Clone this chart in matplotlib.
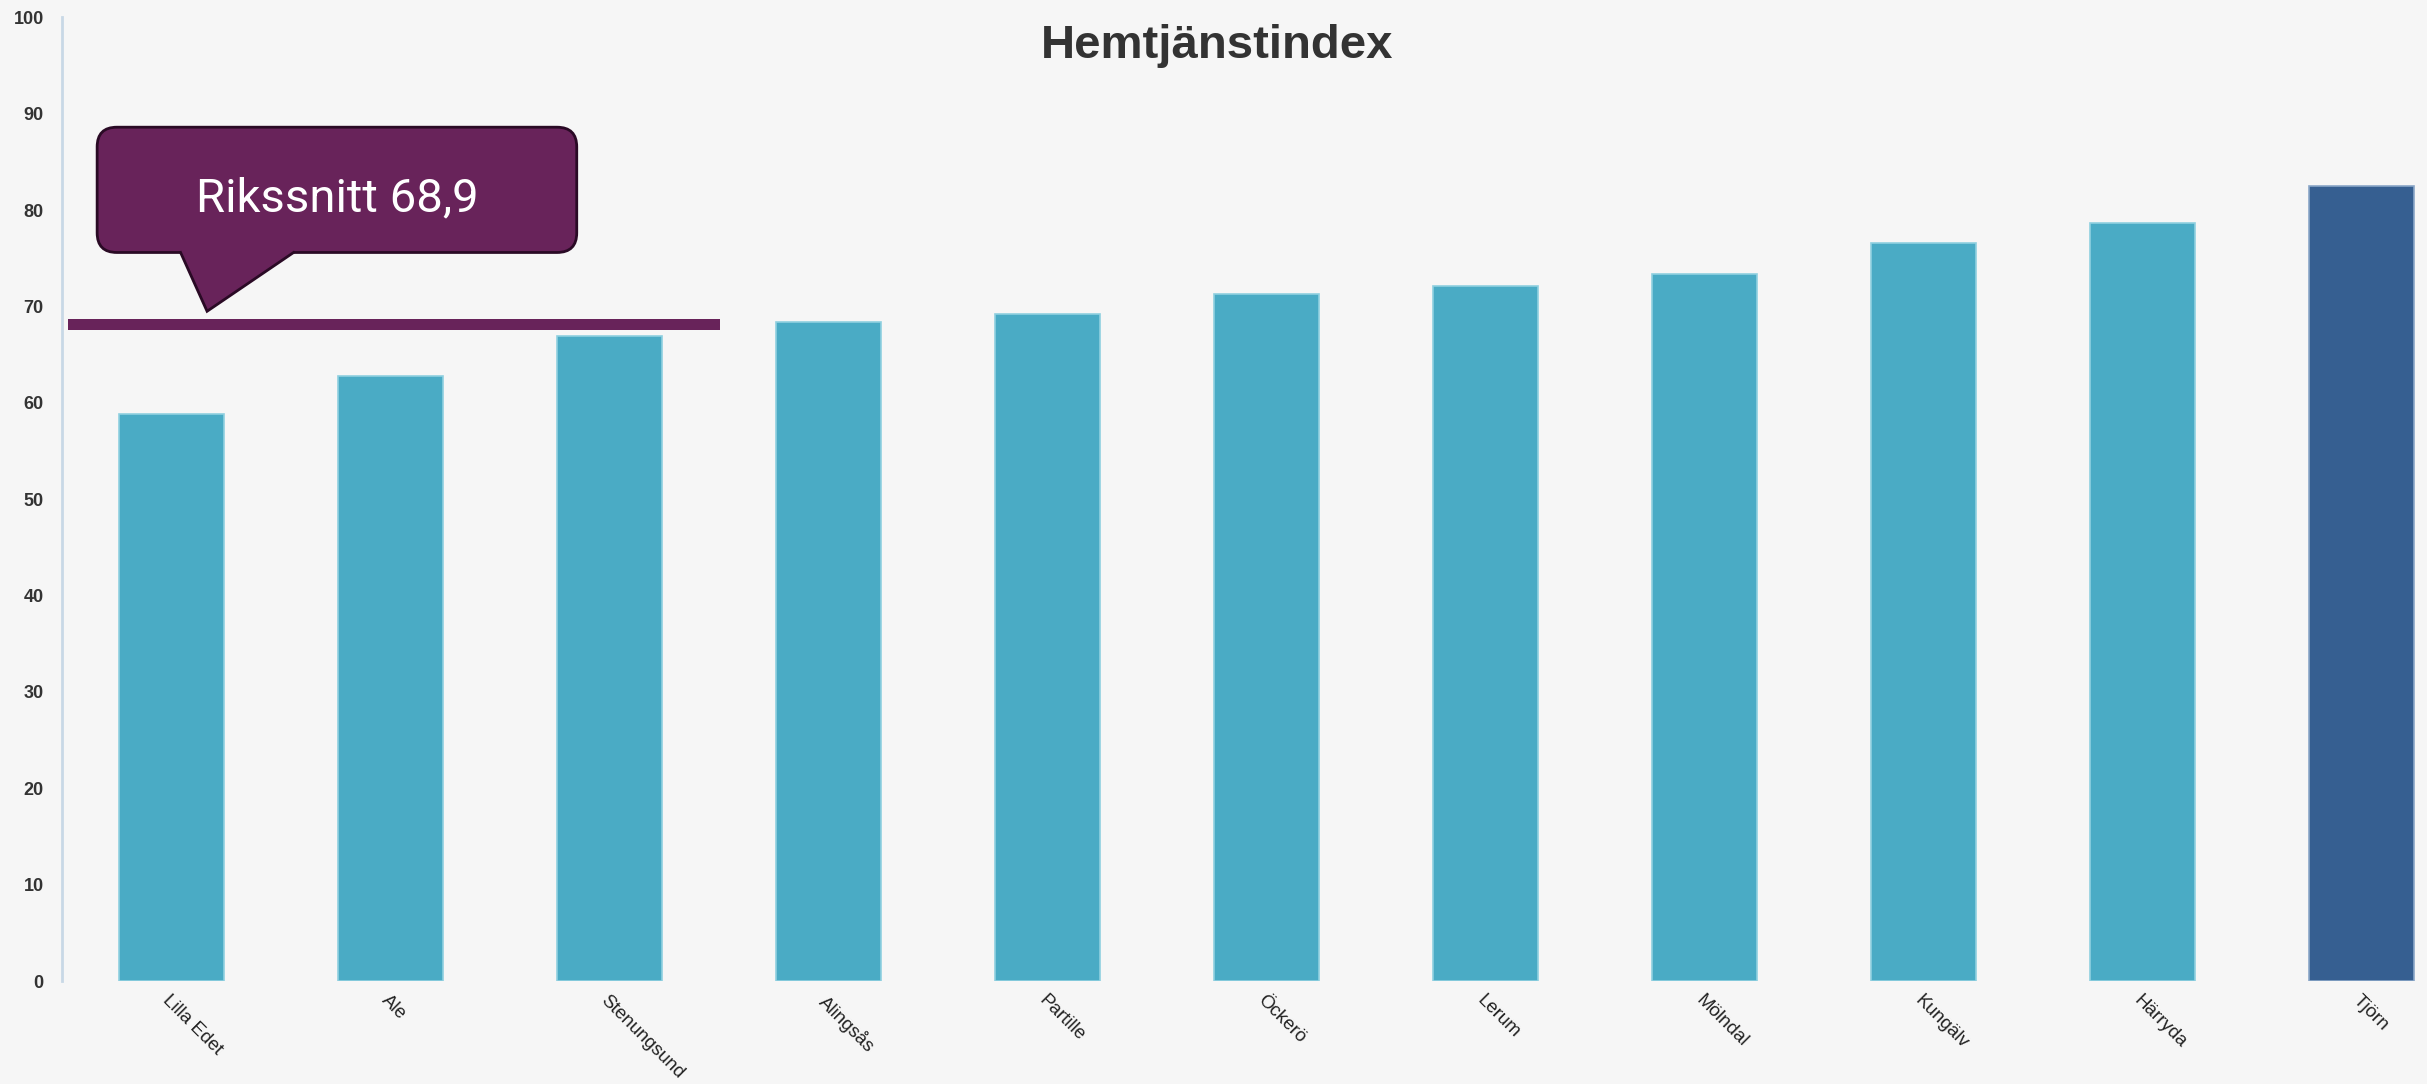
import matplotlib
matplotlib.use("Agg")
import matplotlib.pyplot as plt
from matplotlib.patches import FancyBboxPatch, Polygon, Rectangle

# ---- data ----
municipalities = ["Lilla Edet", "Ale", "Stenungsund", "Alingsås", "Partille", "Öckerö",
                  "Lerum", "Mölndal", "Kungälv", "Härryda", "Tjörn"]
index_values = [58.8, 62.8, 66.9, 68.4, 69.2, 71.3, 72.1, 73.4, 76.6, 78.7, 82.5]
highlight = "Tjörn"
rikssnitt_label = "Rikssnitt 68,9"
rikssnitt_line = 68.15
yticks = list(range(0, 101, 10))

bg = "#f6f6f6"
bar_color = "#4aabc5"
hl_color = "#365f91"
purple = "#68235a"

fig = plt.figure(figsize=(24.27, 10.84), dpi=100, facecolor=bg)
ax = fig.add_axes([0.0255, 0.095, 0.9745, 0.889])
ax.set_facecolor(bg)

x = list(range(len(municipalities)))
colors = [hl_color if m == highlight else bar_color for m in municipalities]
edges = ["#8aa6c8" if m == highlight else "#8fd0e0" for m in municipalities]
ax.bar(x, index_values, width=0.48, color=colors, edgecolor=edges, linewidth=1.2, zorder=2)

ax.set_xlim(-0.5, 10.3)
ax.set_ylim(0, 100)
ax.set_yticks(yticks)
ax.set_yticklabels([str(v) for v in yticks], fontsize=13, fontweight="bold",
                   color="#333333", family="Liberation Sans")
ax.set_xticks(x)
ax.set_xticklabels(municipalities, rotation=-45, ha="left", va="top",
                   rotation_mode="anchor", fontsize=13.5, color="#222222",
                   family="Liberation Sans")
ax.tick_params(axis="both", length=0)
ax.tick_params(axis="y", pad=13)
ax.tick_params(axis="x", pad=8)
for s in ["top", "right", "bottom"]:
    ax.spines[s].set_visible(False)
ax.spines["left"].set_color("#c8d8e6")
ax.spines["left"].set_linewidth(2)

fig.text(0.5015, 0.958, "Hemtjänstindex", ha="center", va="center", fontsize=34,
         fontweight="bold", color="#333333", family="Liberation Sans")

# average line
ax.add_patch(Rectangle((-0.473, 67.6), 2.98, 1.1, facecolor=purple, edgecolor="none", zorder=4))

# callout
box = FancyBboxPatch((-0.339, 75.6), 2.19, 13.0,
                     boxstyle="round,pad=0,rounding_size=0.09",
                     mutation_aspect=22.7, facecolor=purple, edgecolor="#2a0a25",
                     linewidth=2, zorder=5)
ax.add_patch(box)
ptr = [(0.042, 76.3), (0.042, 75.6), (0.163, 69.5), (0.558, 75.6), (0.558, 76.3)]
ax.add_patch(Polygon(ptr, closed=True, facecolor=purple, edgecolor="none", zorder=6))
ax.plot([0.042, 0.163, 0.558], [75.6, 69.5, 75.6], color="#2a0a25", lw=2, zorder=7,
        solid_joinstyle="miter")
ax.text(0.756, 81.2, rikssnitt_label, ha="center", va="center", fontsize=34,
        color="white", family="Roboto", zorder=8)

fig.savefig("out.png", dpi=100, facecolor=bg)
